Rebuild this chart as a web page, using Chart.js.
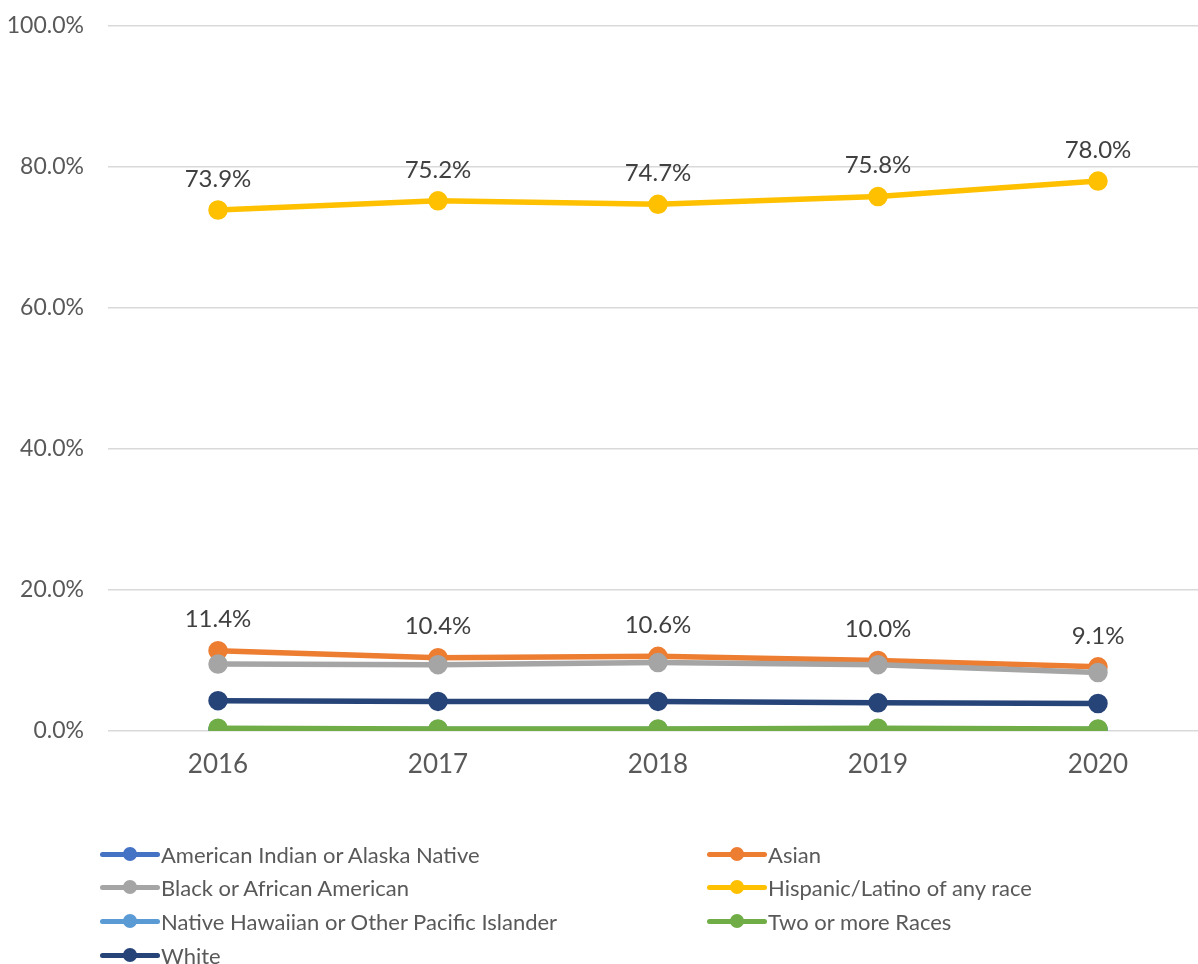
<!DOCTYPE html>
<html>
<head>
<meta charset="utf-8">
<script src="https://cdn.jsdelivr.net/npm/chart.js@4/dist/chart.umd.min.js"></script>
<style>
  html, body { margin: 0; padding: 0; background: #fff; overflow: hidden; }
  #wrap { position: relative; width: 1220px; height: 964px; }
  #c { position: absolute; left: 0; top: 0; }
  #legend { position: absolute; left: 0; top: 0; width: 1198px; height: 964px; pointer-events: none;
    font-family: Lato, "Open Sans", sans-serif; font-size: 22px; color: #595959; }
  .li { position: absolute; height: 30px; display: flex; align-items: center; white-space: nowrap; }
  .mk { position: relative; width: 60px; height: 30px; margin-right: 1px; }
  .mk .ln { position: absolute; left: 0; right: 0; top: 12.5px; height: 5px; border-radius: 3px; }
  .mk .dt { position: absolute; left: 23px; top: 8px; width: 14px; height: 14px; border-radius: 50%; }
</style>
</head>
<body>
<div id="wrap">
  <canvas id="c" width="1220" height="800"></canvas>
  <div id="legend"></div>
</div>
<script>
const years = ['2016', '2017', '2018', '2019', '2020'];
const seriesNames = [
  'American Indian or Alaska Native',
  'Asian',
  'Black or African American',
  'Hispanic/Latino of any race',
  'Native Hawaiian or Other Pacific Islander',
  'Two or more Races',
  'White'
];
const americanIndian = [0.2, 0.2, 0.2, 0.2, 0.2];
const asian = [11.4, 10.4, 10.6, 10.0, 9.1];
const black = [9.5, 9.4, 9.7, 9.4, 8.3];
const hispanic = [73.9, 75.2, 74.7, 75.8, 78.0];
const nativeHawaiian = [0.1, 0.1, 0.1, 0.1, 0.1];
const twoOrMore = [0.4, 0.3, 0.3, 0.4, 0.3];
const white = [4.3, 4.2, 4.2, 4.0, 3.9];
const yTicks = [0, 20, 40, 60, 80, 100];

const seriesData = [americanIndian, asian, black, hispanic, nativeHawaiian, twoOrMore, white];
const colors = ['#4472C4', '#ED7D31', '#A5A5A5', '#FFC000', '#5B9BD5', '#70AD47', '#264478'];
const labelled = [false, true, false, true, false, false, false];

const datasets = seriesNames.map((name, i) => ({
  label: name,
  data: seriesData[i],
  borderColor: colors[i],
  backgroundColor: colors[i],
  pointBackgroundColor: colors[i],
  pointBorderColor: colors[i],
  borderWidth: 5.5,
  pointRadius: 7,
  pointHoverRadius: 7,
  tension: 0,
  order: seriesNames.length - i,
  showLabels: labelled[i]
}));

const valueLabels = {
  id: 'valueLabels',
  afterDatasetsDraw(chart) {
    const ctx = chart.ctx;
    ctx.save();
    ctx.font = '24px Lato, "Open Sans", sans-serif';
    ctx.fillStyle = '#404040';
    ctx.textAlign = 'center';
    ctx.textBaseline = 'middle';
    chart.data.datasets.forEach((ds, i) => {
      if (!ds.showLabels) return;
      const meta = chart.getDatasetMeta(i);
      meta.data.forEach((pt, j) => {
        ctx.fillText(ds.data[j].toFixed(1) + '%', pt.x, pt.y - 31);
      });
    });
    ctx.restore();
  }
};

const chart = new Chart(document.getElementById('c'), {
  type: 'line',
  data: { labels: years, datasets },
  options: {
    responsive: false,
    animation: false,
    events: [],
    layout: { autoPadding: false, padding: { top: 26, right: 12, left: 0, bottom: 0 } },
    plugins: { legend: { display: false }, tooltip: { enabled: false } },
    scales: {
      x: {
        offset: true,
        grid: { display: false, drawTicks: false },
        border: { display: false },
        ticks: { color: '#595959', font: { family: 'Lato, "Open Sans", sans-serif', size: 26 }, padding: 18 },
        afterFit(scale) { scale.height = 69; }
      },
      y: {
        min: 0, max: 100,
        afterBuildTicks(scale) { scale.ticks = yTicks.map(v => ({ value: v })); },
        grid: { color: '#d9d9d9', lineWidth: 1.5, drawTicks: false },
        border: { display: false },
        ticks: {
          color: '#595959', font: { family: 'Lato, "Open Sans", sans-serif', size: 23 }, padding: 24,
          callback: v => v.toFixed(1) + '%'
        },
        afterFit(scale) { scale.width = 108; scale.paddingTop = 0; scale.paddingBottom = 0; }
      }
    }
  },
  plugins: [valueLabels]
});

// Two-column legend built from the datasets
const legendPos = [
  [100, 854], [707, 854],
  [100, 887], [707, 887],
  [100, 921], [707, 921],
  [100, 955]
];
const legend = document.getElementById('legend');
chart.data.datasets.forEach((ds, i) => {
  const item = document.createElement('div');
  item.className = 'li';
  item.style.left = legendPos[i][0] + 'px';
  item.style.top = (legendPos[i][1] - 15) + 'px';
  item.innerHTML = '<div class="mk"><div class="ln" style="background:' + ds.borderColor +
    '"></div><div class="dt" style="background:' + ds.borderColor + '"></div></div><span></span>';
  item.querySelector('span').textContent = ds.label;
  legend.appendChild(item);
});
</script>
</body>
</html>
